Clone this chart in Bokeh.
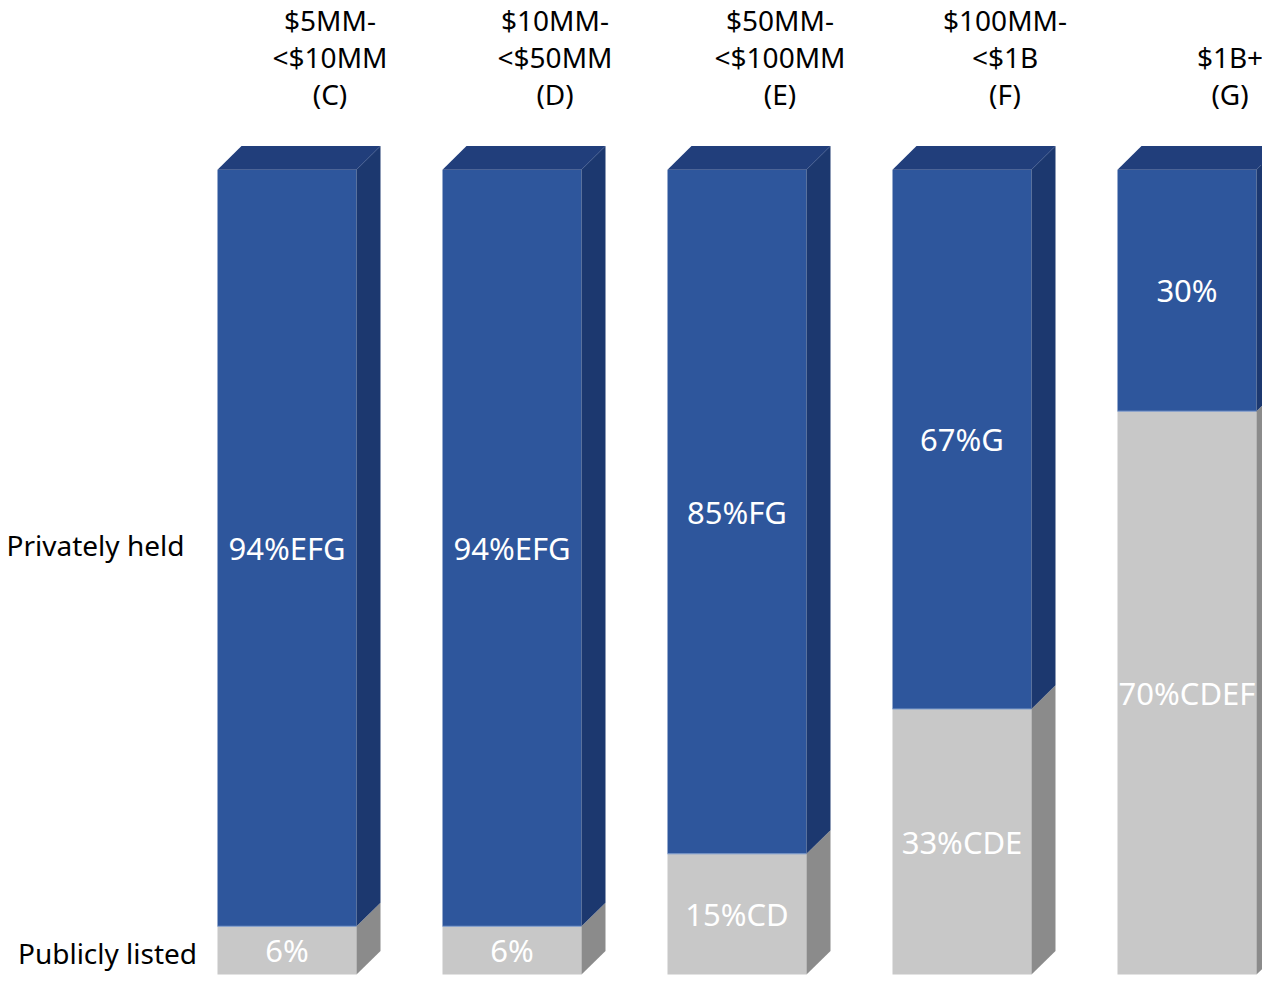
from bokeh.plotting import figure
from bokeh.models import Range1d
from bokeh.embed import file_html
from bokeh.resources import INLINE
from bokeh.core.properties import value

# ---------------- data ----------------
categories = ["$5MM-\n<$10MM\n(C)", "$10MM-\n<$50MM\n(D)", "$50MM-\n<$100MM\n(E)",
              "$100MM-\n<$1B\n(F)", "$1B+\n(G)"]
series = ["Privately held", "Publicly listed"]
public = [6, 6, 15, 33, 70]
private = [94, 94, 85, 67, 30]
public_labels = ["6%", "6%", "15%CD", "33%CDE", "70%CDEF"]
private_labels = ["94%EFG", "94%EFG", "85%FG", "67%G", "30%"]

# ---------------- styling / geometry ----------------
PXX = 225.0          # pixels per category unit
PXY = 8.18           # pixels per percent
X0 = 286.5           # pixel centre of first bar
Y0 = 990.0           # pixel of the bar baseline
W = 139 / PXX        # bar front width
DX = 24 / PXX        # 3D depth (x)
DY = 24 / PXY        # 3D depth (y)
FONT = value("Noto Sans")

BLUE_FRONT, BLUE_SIDE, BLUE_TOP = "#2E569C", "#1C386F", "#213E7B"
GREY_FRONT, GREY_SIDE = "#C8C8C8", "#8B8B8B"

xs_c = list(range(len(categories)))

p = figure(width=1262, height=978, output_backend="svg", toolbar_location=None,
           x_range=Range1d(-X0 / PXX, (1262 - X0) / PXX),
           y_range=Range1d((Y0 - 994) / PXY, Y0 / PXY),
           min_border=0, outline_line_color=None)
p.axis.visible = False
p.grid.visible = False
p.background_fill_color = "white"
p.border_fill_color = "white"

# segments (bottom, top)
seg_pub = [(0, v) for v in public]
seg_priv = [(pb, pb + pv) for pb, pv in zip(public, private)]

def side_faces(segs):
    xs, ys = [], []
    for x, (b, t) in zip(xs_c, segs):
        r = x + W / 2
        xs.append([r, r + DX, r + DX, r])
        ys.append([b, b + DY, t + DY, t])
    return xs, ys

# front faces
p.quad(left=[x - W / 2 for x in xs_c], right=[x + W / 2 for x in xs_c],
       bottom=[s[0] for s in seg_pub], top=[s[1] for s in seg_pub],
       fill_color=GREY_FRONT, line_color=None)
p.quad(left=[x - W / 2 for x in xs_c], right=[x + W / 2 for x in xs_c],
       bottom=[s[0] for s in seg_priv], top=[s[1] for s in seg_priv],
       fill_color=BLUE_FRONT, line_color=None)
# boundary highlight line
p.segment(x0=[x - W / 2 for x in xs_c], x1=[x + W / 2 for x in xs_c],
          y0=public, y1=public, line_color="#7E9BCB", line_width=1)

# side faces
gx, gy = side_faces(seg_pub)
p.patches(gx, gy, fill_color=GREY_SIDE, line_color=None)
bx, by = side_faces(seg_priv)
p.patches(bx, by, fill_color=BLUE_SIDE, line_color=None)

# top faces
tx, ty = [], []
for x, (b, t) in zip(xs_c, seg_priv):
    l, r = x - W / 2, x + W / 2
    tx.append([l, l + DX, r + DX, r])
    ty.append([t, t + DY, t + DY, t])
p.patches(tx, ty, fill_color=BLUE_TOP, line_color=None)

# value labels
p.text(x=xs_c, y=[(b + t) / 2 for b, t in seg_priv], text=private_labels,
       text_font=FONT, text_font_size="31px", text_color="white",
       text_align="center", text_baseline="middle")
p.text(x=xs_c, y=[(b + t) / 2 for b, t in seg_pub], text=public_labels,
       text_font=FONT, text_font_size="31px", text_color="white",
       text_align="center", text_baseline="middle")

# category headers (one glyph per line, bottom aligned)
hx, hy, ht = [], [], []
base = 100 + 77 / PXY
step = 37.5 / PXY
for x, cat in zip(xs_c, categories):
    lines = cat.split("\n")
    n = len(lines)
    for j, line in enumerate(lines):
        hx.append(x + 43 / PXX)
        hy.append(base + (n - 1 - j) * step)
        ht.append(line)
p.text(x=hx, y=hy, text=ht, text_font=FONT, text_font_size="28px",
       text_color="black", text_align="center", text_baseline="middle")

# series labels at left
p.text(x=[(95 - X0) / PXX, (107 - X0) / PXX],
       y=[(seg_priv[0][0] + seg_priv[0][1]) / 2 + 0.4, (seg_pub[0][0] + seg_pub[0][1]) / 2 - 0.3],
       text=series, text_font=FONT, text_font_size="28px", text_color="black",
       text_align="center", text_baseline="middle")

open("out.html", "w").write(file_html(p, INLINE))
